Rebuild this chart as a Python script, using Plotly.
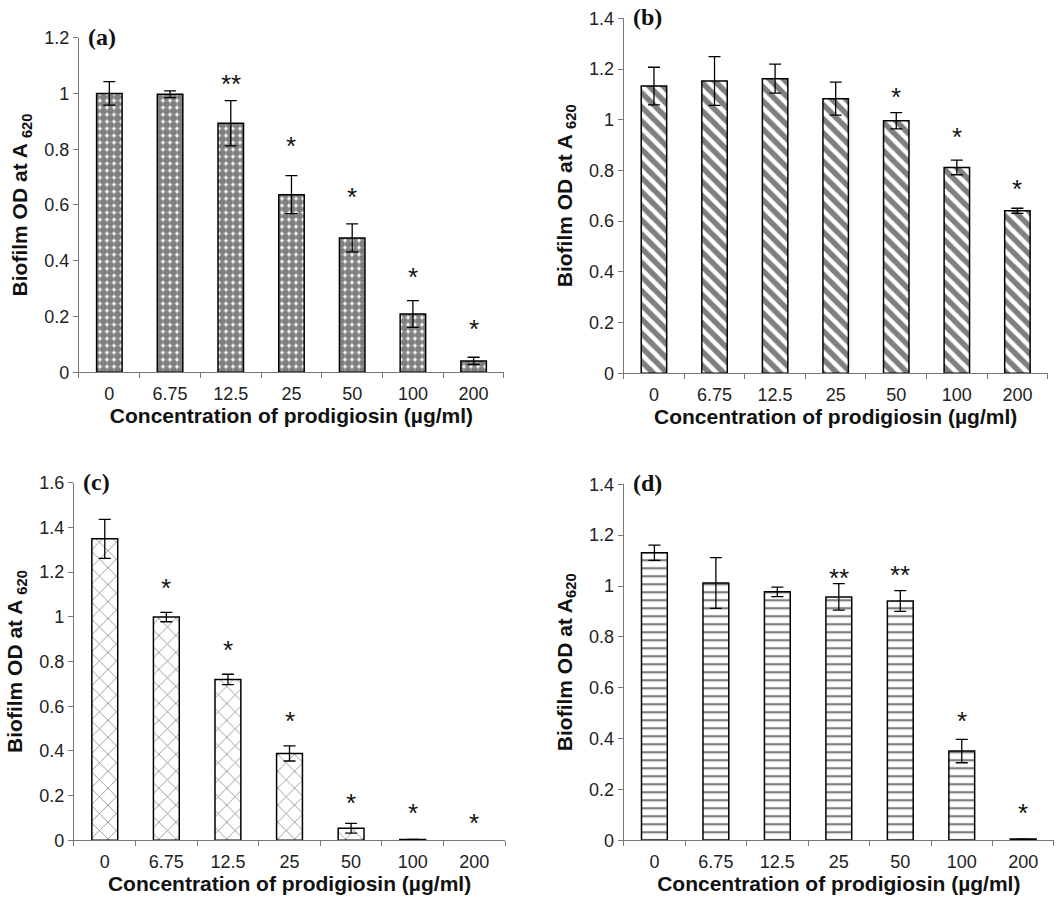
import plotly.graph_objects as go

categories = ["0", "6.75", "12.5", "25", "50", "100", "200"]

# Panel (a)
vals_a = [1.000, 0.997, 0.893, 0.637, 0.482, 0.209, 0.041]
err_a = [0.042, 0.012, 0.081, 0.068, 0.050, 0.048, 0.013]
stars_a = ["", "", "**", "*", "*", "*", "*"]
stars_a_y = [0, 0, 1.048, 0.827, 0.642, 0.355, 0.170]

# Panel (b)
vals_b = [1.133, 1.153, 1.162, 1.083, 0.996, 0.812, 0.641]
err_b = [0.074, 0.096, 0.057, 0.065, 0.032, 0.029, 0.010]
stars_b = ["", "", "", "", "*", "*", "*"]
stars_b_y = [0, 0, 0, 0, 1.104, 0.946, 0.743]

# Panel (c)
vals_c = [1.349, 0.999, 0.720, 0.389, 0.054, 0.004, 0.0]
err_c = [0.087, 0.021, 0.023, 0.034, 0.022, 0.0, 0.0]
stars_c = ["", "*", "*", "*", "*", "*", "*"]
stars_c_y = [0, 1.148, 0.869, 0.552, 0.186, 0.142, 0.097]

# Panel (d)
vals_d = [1.131, 1.012, 0.977, 0.957, 0.941, 0.351, 0.005]
err_d = [0.030, 0.100, 0.019, 0.052, 0.041, 0.046, 0.0]
stars_d = ["", "", "", "**", "**", "*", "*"]
stars_d_y = [0, 0, 0, 1.049, 1.059, 0.485, 0.122]

panels = [
    dict(vals=vals_a, err=err_a, stars=stars_a, sy=stars_a_y, label="(a)", ymax=1.2,
         pattern=dict(shape=".", size=7, solidity=0.78, fgcolor="black", bgcolor="white"),
         xd=[0.0743, 0.4741], yd=[0.5877, 0.9583], ytitle="Biofilm OD at A <sub>620</sub>"),
    dict(vals=vals_b, err=err_b, stars=stars_b, sy=stars_b_y, label="(b)", ymax=1.4,
         pattern=dict(shape="\\", size=10, solidity=0.55, fgcolor="black", bgcolor="white"),
         xd=[0.5867, 0.9856], yd=[0.5866, 0.9797], ytitle="Biofilm OD at A <sub>620</sub>"),
    dict(vals=vals_c, err=err_c, stars=stars_c, sy=stars_c_y, label="(c)", ymax=1.6,
         pattern=dict(shape="x", size=12, solidity=0.12, fgcolor="black", bgcolor="white"),
         xd=[0.0696, 0.4751], yd=[0.0694, 0.4654], ytitle="Biofilm OD at A <sub>620</sub>"),
    dict(vals=vals_d, err=err_d, stars=stars_d, sy=stars_d_y, label="(d)", ymax=1.4,
         pattern=dict(shape="-", size=8, solidity=0.28, fgcolor="black", bgcolor="white"),
         xd=[0.5867, 0.9915], yd=[0.0694, 0.4637], ytitle="Biofilm OD at A<sub>620</sub>"),
]

idx = list(range(len(categories)))
bounds = [i - 0.5 for i in range(len(categories) + 1)]

FONT = "Liberation Sans, Arial, sans-serif"
fig = go.Figure()
layout = dict(
    width=1063, height=903, margin=dict(l=0, r=0, t=0, b=0, pad=0, autoexpand=False),
    paper_bgcolor="white", plot_bgcolor="white", showlegend=False,
    font=dict(family=FONT, size=18, color="#222"),
)
annotations = []
for i, p in enumerate(panels):
    n = "" if i == 0 else str(i + 1)
    xref, yref = "x" + n, "y" + n
    # a bar of exactly zero height is not drawn in the reference
    yv = [v if v > 0 else None for v in p["vals"]]
    fig.add_trace(go.Bar(
        x=idx, y=yv, xaxis=xref, yaxis=yref, width=0.42,
        marker=dict(color="white", pattern=p["pattern"], line=dict(color="black", width=1.5)),
        error_y=dict(type="data", array=p["err"], visible=True, color="black", thickness=1.3, width=6),
    ))
    layout["xaxis" + n] = dict(
        domain=p["xd"], anchor=yref, type="linear", range=[-0.5, len(categories) - 0.5],
        tickmode="array", tickvals=idx, ticktext=categories,
        ticks="outside", ticklen=5, tickcolor="rgba(0,0,0,0)",
        minor=dict(tickmode="array", tickvals=bounds, ticks="outside", ticklen=5, tickcolor="#777", showgrid=False),
        showline=True, linecolor="#777", linewidth=1.3, automargin=False,
        showgrid=False, zeroline=False, tickfont=dict(size=18, color="#222"),
        title=dict(text="<b>Concentration of prodigiosin (µg/ml)</b>", font=dict(size=21, color="#111"), standoff=2),
    )
    layout["yaxis" + n] = dict(
        domain=p["yd"], anchor=xref, range=[0, p["ymax"]], dtick=0.2, tick0=0,
        ticks="outside", ticklen=5, tickcolor="#777", showline=True, linecolor="#777", linewidth=1.3,
        showgrid=False, zeroline=False, automargin=False, tickfont=dict(size=18, color="#222"),
        title=dict(text="<b>" + p["ytitle"] + "</b>", font=dict(size=21, color="#111"), standoff=10),
    )
    annotations.append(dict(
        text="<b>" + p["label"] + "</b>", xref=xref + " domain", yref=yref + " domain",
        x=0.017, y=1.0, xanchor="left", yanchor="middle", showarrow=False, yshift=1,
        font=dict(family="Liberation Serif, Times New Roman, serif", size=24, color="#111"),
    ))
    for k, s, y in zip(idx, p["stars"], p["sy"]):
        if s:
            annotations.append(dict(
                text=s, x=k, y=y, xref=xref, yref=yref, xanchor="center", yanchor="middle",
                showarrow=False, yshift=-4, font=dict(size=26, color="#111"),
            ))
layout["annotations"] = annotations
fig.update_layout(**layout)
fig.write_html("out.html")
